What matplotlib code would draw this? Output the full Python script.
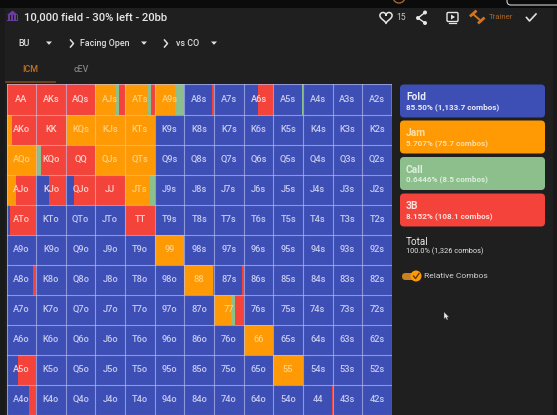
import numpy as np
import matplotlib
matplotlib.use("Agg")
import matplotlib.pyplot as plt
from matplotlib.patches import FancyBboxPatch, Rectangle, Circle, Polygon

plt.rcParams['font.family'] = ['Roboto', 'DejaVu Sans']

# ---- data -------------------------------------------------------------
ranks = list("AKQJT98765432")
visible_rows = 11
actions = ["Fold", "Jam", "Call", "3B"]
action_pct = ["85.50%", "5.707%", "0.6446%", "8.152%"]
action_combos = ["1,133.7", "75.7", "8.5", "108.1"]
total_pct = "100.0%"
total_combos = "1,326"

pure_jam = ["KQs", "KJs", "KTs", "QJs", "QTs", "AQo", "99", "66", "55"]
pure_bet = ["AKs", "AQs", "KK", "QQ", "JJ", "TT"]

mixed_hands = ["AA", "AJs", "ATs", "A9s", "A8s", "A6s", "A5s", "A2s", "AKo", "KQo",
               "AJo", "KJo", "QJo", "JTs", "ATo", "A8o", "88", "87s", "77", "A5o", "A4o", "44"]
mixed_fold = [0, 0, 0, 0, .93, .47, .95, .96, 0, 0,
              0, .45, .28, 0, .12, .90, 0, .95, 0, .40, .75, .97]
mixed_jam = [0, .66, .78, .68, 0, 0, 0, 0, .18, .05,
             .33, 0, 0, .84, 0, 0, .96, 0, .58, 0, 0, 0]
mixed_call = [.03, .14, .08, .32, 0, 0, .05, 0, 0, .10,
              0, 0, 0, .16, 0, 0, 0, 0, .14, 0, 0, 0]
mixed_bet = [.97, .20, .14, 0, .07, .53, 0, .04, .82, .85,
             .67, .55, .72, 0, .88, .10, .04, .05, .28, .60, .25, .03]

# ---- style ------------------------------------------------------------
BG = "#1f1f1f"
colors = ["#3d4fb5", "#ff9a05", "#8cbf8c", "#f4433a"]
text_on = ["#ccd1f2", "#ffd488", "#d8ecd8", "#ffdcd8"]
sub_on = ["#e8eafa", "#ffdca8", "#dcefdc", "#ffe0dc"]

W, H = 557, 415
fig = plt.figure(figsize=(W / 100, H / 100), dpi=100, facecolor=BG)

# chrome layer
ui = fig.add_axes([0, 0, 1, 1], zorder=1)
ui.set_xlim(0, W); ui.set_ylim(H, 0); ui.axis("off")
ui.add_patch(Rectangle((0, 0), W, 8, color="#0b0b0b", lw=0))
ui.add_patch(Rectangle((0, 8), 5, H, color="#1a1a1a", lw=0))
ui.add_patch(Rectangle((553, 8), 4, H, color="#191919", lw=0))
ui.add_patch(FancyBboxPatch((507, -8), 60, 13, boxstyle="round,pad=0,rounding_size=4",
                            fc="none", ec="#cfcfcf", lw=.8))
ui.add_patch(Circle((399, -3), 6, fc="none", ec="#a8642a", lw=1))

# bank icon
ui.add_patch(Polygon([[7, 15], [12.5, 10.5], [18, 15]], color="#6a3d9a", lw=0))
for xx in (8, 11, 14, 16.5):
    ui.add_patch(Rectangle((xx, 15.5), 1.6, 4.5, color="#6a3d9a", lw=0))
ui.add_patch(Rectangle((7, 20), 11, 1.5, color="#6a3d9a", lw=0))

ui.text(24, 17.5, "10,000 field - 30% left - 20bb", color="#e6e6e6", fontsize=8.1,
        va="center", ha="left", fontweight="medium")

# selector row
def caret(x, y=43):
    ui.add_patch(Polygon([[x - 3, y - 1.5], [x + 3, y - 1.5], [x, y + 1.8]], color="#e0e0e0", lw=0))
def chevron(x, y=43.5):
    ui.plot([x - 1.5, x + 1.5, x - 1.5], [y - 3.5, y, y + 3.5], color="#e0e0e0", lw=1.1)

ui.text(18, 43.5, "BU", color="#e0e0e0", fontsize=6.4, va="center", fontweight="medium")
caret(49)
chevron(72)
ui.text(80, 43.5, "Facing Open", color="#dcdcdc", fontsize=6.4, va="center", fontweight="medium")
caret(144)
chevron(166)
ui.text(176, 43.5, "vs CO", color="#dcdcdc", fontsize=6.4, va="center", fontweight="medium")
caret(214)

ui.text(30.5, 69.5, "ICM", color="#c8701e", fontsize=6.4, va="center", ha="center", fontweight="medium")
ui.text(81, 69.5, "cEV", color="#808080", fontsize=6.4, va="center", ha="center", fontweight="medium")
ui.plot([6, 55], [82.3, 82.3], color="#7a4a1c", lw=1.2)

# toolbar icons
t = np.linspace(0, 2 * np.pi, 80)
hx = 386 + 0.38 * 16 * np.sin(t) ** 3
hy = 17 - 0.38 * (13 * np.cos(t) - 5 * np.cos(2 * t) - 2 * np.cos(3 * t) - np.cos(4 * t))
ui.plot(hx, hy, color="#e6e6e6", lw=1.1)
ui.text(401, 17, "15", color="#c8c8c8", fontsize=6.2, va="center", ha="center")
ui.plot([425, 418, 425], [12.5, 18, 23], color="#e6e6e6", lw=1)
for cx, cy in ((425, 12.5), (418, 18), (425, 23)):
    ui.add_patch(Circle((cx, cy), 2, color="#e6e6e6", lw=0))
ui.add_patch(FancyBboxPatch((447, 12.5), 11, 9, boxstyle="round,pad=0,rounding_size=1.2",
                            fc="none", ec="#e6e6e6", lw=1))
ui.add_patch(Polygon([[451, 14.5], [451, 19.5], [455, 17]], color="#e6e6e6", lw=0))
ui.plot([449, 456], [23.3, 23.3], color="#e6e6e6", lw=.9)
ui.plot([473, 481], [14, 21], color="#d2741c", lw=1.4)
ui.plot([471, 475.5], [15.5, 11.5], color="#d2741c", lw=2)
ui.plot([479, 483.5], [22.5, 18.5], color="#d2741c", lw=2)
ui.text(489, 17, "Trainer", color="#a8642a", fontsize=5.6, va="center", ha="left")
ui.plot([526.5, 529.5, 536], [17.5, 21, 14], color="#e0e0e0", lw=1.2)

# legend cards
card_tops = [84.5, 120.5, 157, 193.5]
for name, pct, cmb, col, top, tc, sc in zip(actions, action_pct, action_combos, colors, card_tops, text_on, sub_on):
    ui.add_patch(FancyBboxPatch((400, top), 145, 33, boxstyle="round,pad=0,rounding_size=4",
                                fc=col, ec="none", lw=0))
    ui.text(406, top + 12.5, name, color=sc, fontsize=7.4, va="center", fontweight="bold")
    ui.text(406, top + 22.5, f"{pct} ({cmb} combos)", color=sc, fontsize=5.9, va="center", fontweight="bold")

ui.text(406, 242, "Total", color="#e6e6e6", fontsize=7.2, va="center")
ui.text(406, 251.5, f"{total_pct} ({total_combos} combos)", color="#e6e6e6", fontsize=5.3, va="center")

# toggle
ui.add_patch(FancyBboxPatch((402, 273), 18, 7, boxstyle="round,pad=0,rounding_size=3.5", fc="#c98020", ec="none"))
ui.add_patch(Circle((416, 276), 5.5, fc="#ff9a05", ec="none"))
ui.plot([413.5, 415.5, 419], [276, 278.5, 273.5], color="#5a3a10", lw=1)
ui.text(424, 276, "Relative Combos", color="#cfcfcf", fontsize=6.1, va="center")

# cursor
ui.add_patch(Polygon([[444, 312], [444, 319], [445.5, 317.5], [447, 320], [448, 319.5], [447, 317], [449, 317]],
                     fc="#e8e8e8", ec="#444444", lw=.3))

# range grid
x0, x1, y0 = 6.5, 392.0, 84.5
ax = fig.add_axes([x0 / W, 0, (x1 - x0) / W, (H - y0) / H], zorder=2)
ax.set_xlim(0, 13); ax.set_ylim(visible_rows, 0); ax.axis("off")

for r in range(visible_rows):
    for c in range(13):
        if r == c:
            hand = ranks[r] * 2
        elif c > r:
            hand = ranks[r] + ranks[c] + "s"
        else:
            hand = ranks[c] + ranks[r] + "o"
        if hand in mixed_hands:
            i = mixed_hands.index(hand)
            mix = [mixed_fold[i], mixed_jam[i], mixed_call[i], mixed_bet[i]]
        elif hand in pure_jam:
            mix = [0, 1, 0, 0]
        elif hand in pure_bet:
            mix = [0, 0, 0, 1]
        else:
            mix = [1, 0, 0, 0]
        left = c
        for share, col in zip(mix, colors):
            if share > 0:
                ax.barh(r + .5, share, left=left, height=1, color=col, lw=0)
                left += share
        cum = np.cumsum(mix)
        under = int(np.searchsorted(cum, .5))
        ax.text(c + .5, r + .49, hand, color=text_on[under], fontsize=6.7, ha="center", va="center",
                fontweight="medium", alpha=.95)

for k in range(14):
    ax.axvline(k, color="#c3c8f2", lw=.8, alpha=.6)
for k in range(visible_rows + 1):
    ax.axhline(k, color="#c3c8f2", lw=.8, alpha=.6)

fig.savefig("out.png", dpi=100, facecolor=BG)
